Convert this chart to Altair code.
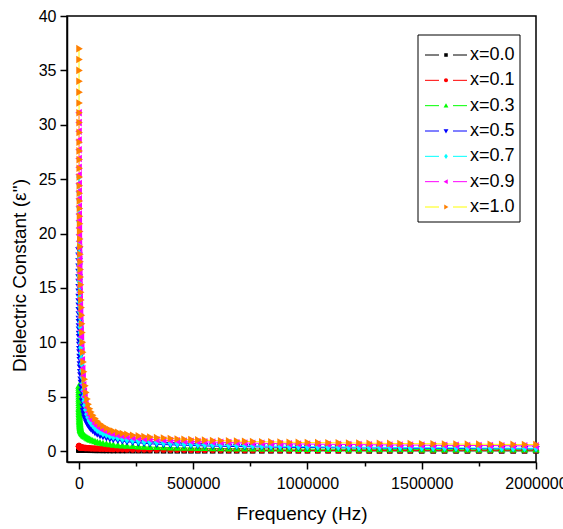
import altair as alt
import pandas as pd

series_names = ["x=0.0", "x=0.1", "x=0.3", "x=0.5", "x=0.7", "x=0.9", "x=1.0"]
marker_keys = ["m0.0", "m0.1", "m0.3", "m0.5", "m0.7", "m0.9", "m1.0"]
line_colors = ["#000000", "#FF0000", "#00FF00", "#0000FF", "#00FFFF", "#FF00FF", "#FFFF00"]
marker_colors = ["#000000", "#FF0000", "#00FF00", "#0000FF", "#00FFFF", "#FF00FF", "#FF8000"]
# small custom marker outlines: square, circle, triangle-up, triangle-down, diamond, triangle-left, triangle-right
marker_shapes = [
    "M-0.22,-0.22H0.22V0.22H-0.22Z",
    "M-0.25,0A0.25,0.25 0 1,0 0.25,0A0.25,0.25 0 1,0 -0.25,0Z",
    "M0,-0.3L0.3,0.22H-0.3Z",
    "M0,0.3L0.3,-0.22H-0.3Z",
    "M0,-0.32L0.23,0L0,0.32L-0.23,0Z",
    "M-0.3,0L0.22,-0.3V0.3Z",
    "M0.3,0L-0.22,-0.3V0.3Z",
]

freq = [
    50, 100, 150, 200, 250, 300, 400, 500, 600, 700,
    800, 900, 1000, 1200, 1400, 1600, 1800, 2000, 2300, 2600,
    3000, 3400, 3800, 4300, 4800, 5400, 6000, 6700, 7500, 8400,
    9400, 10500, 11700, 13000, 14500, 16000, 18000, 20000, 23000, 26000,
    30000, 35000, 40000, 46000, 52000, 60000, 70000, 80000, 92000, 105000,
    120000, 135000, 150000, 170000, 190000, 210000, 235000, 260000, 285000, 310000,
    340000, 370000, 400000, 430000, 460000, 490000, 520000, 550000, 585000, 620000,
    655000, 690000, 725000, 760000, 800000, 840000, 880000, 920000, 960000, 1000000,
    1045000, 1090000, 1135000, 1180000, 1225000, 1270000, 1315000, 1360000, 1405000, 1450000,
    1500000, 1550000, 1600000, 1650000, 1700000, 1750000, 1800000, 1850000, 1900000, 1950000,
    2000000,
]

eps_x00 = [
    0.20, 0.19, 0.19, 0.18, 0.18, 0.17, 0.17, 0.17, 0.16, 0.16,
    0.16, 0.15, 0.15, 0.15, 0.15, 0.14, 0.14, 0.14, 0.14, 0.13,
    0.13, 0.13, 0.13, 0.12, 0.12, 0.12, 0.12, 0.12, 0.11, 0.11,
    0.11, 0.11, 0.11, 0.10, 0.10, 0.10, 0.10, 0.10, 0.10, 0.09,
    0.09, 0.09, 0.09, 0.08, 0.08, 0.08, 0.07, 0.07, 0.07, 0.06,
    0.06, 0.06, 0.05, 0.05, 0.05, 0.05, 0.04, 0.04, 0.04, 0.04,
    0.04, 0.03, 0.03, 0.03, 0.03, 0.03, 0.03, 0.03, 0.03, 0.03,
    0.03, 0.03, 0.03, 0.03, 0.03, 0.03, 0.03, 0.03, 0.03, 0.03,
    0.03, 0.03, 0.03, 0.03, 0.03, 0.02, 0.02, 0.02, 0.02, 0.02,
    0.02, 0.02, 0.02, 0.02, 0.02, 0.02, 0.02, 0.02, 0.02, 0.02,
    0.02,
]
eps_x01 = [
    0.48, 0.47, 0.46, 0.45, 0.44, 0.44, 0.43, 0.42, 0.42, 0.41,
    0.41, 0.40, 0.40, 0.39, 0.39, 0.38, 0.38, 0.37, 0.37, 0.36,
    0.36, 0.35, 0.35, 0.35, 0.34, 0.34, 0.34, 0.33, 0.33, 0.33,
    0.32, 0.32, 0.32, 0.31, 0.31, 0.31, 0.30, 0.30, 0.30, 0.29,
    0.29, 0.28, 0.28, 0.27, 0.26, 0.25, 0.24, 0.23, 0.22, 0.21,
    0.20, 0.19, 0.18, 0.17, 0.17, 0.16, 0.15, 0.15, 0.14, 0.14,
    0.13, 0.13, 0.12, 0.12, 0.12, 0.11, 0.11, 0.11, 0.10, 0.10,
    0.10, 0.10, 0.09, 0.09, 0.09, 0.09, 0.09, 0.08, 0.08, 0.08,
    0.08, 0.08, 0.08, 0.08, 0.08, 0.07, 0.07, 0.07, 0.07, 0.07,
    0.07, 0.07, 0.07, 0.07, 0.07, 0.07, 0.07, 0.07, 0.07, 0.07,
    0.07,
]
eps_x03 = [
    6.0, 5.8, 5.6, 5.4, 5.2, 5.0, 4.8, 4.6, 4.4, 4.2,
    4.0, 3.85, 3.7, 3.55, 3.4, 3.25, 3.1, 2.95, 2.8, 2.7,
    2.6, 2.5, 2.4, 2.3, 2.2, 2.1, 2.0, 1.95, 1.9, 1.85,
    1.8, 1.75, 1.7, 1.65, 1.6, 1.55, 1.5, 1.45, 1.4, 1.35,
    1.3, 1.22, 1.15, 1.08, 1.02, 0.95, 0.88, 0.82, 0.76, 0.70,
    0.65, 0.61, 0.57, 0.53, 0.50, 0.47, 0.44, 0.41, 0.39, 0.37,
    0.35, 0.33, 0.32, 0.30, 0.29, 0.28, 0.27, 0.26, 0.25, 0.24,
    0.23, 0.22, 0.22, 0.21, 0.20, 0.20, 0.19, 0.19, 0.18, 0.18,
    0.17, 0.17, 0.17, 0.16, 0.16, 0.16, 0.15, 0.15, 0.15, 0.15,
    0.14, 0.14, 0.14, 0.14, 0.13, 0.13, 0.13, 0.13, 0.13, 0.12,
    0.12,
]
eps_x05 = [
    18.5, 18.0, 17.5, 17.0, 16.5, 16.0, 15.6, 15.1, 14.7, 14.2,
    13.8, 13.4, 13.0, 12.6, 12.2, 11.9, 11.5, 11.2, 10.8, 10.5,
    10.1, 9.8, 9.4, 9.1, 8.7, 8.4, 8.0, 7.7, 7.3, 7.0,
    6.6, 6.3, 5.9, 5.5, 5.0, 4.6, 4.1, 3.7, 3.4, 3.1,
    2.85, 2.6, 2.4, 2.2, 2.05, 1.9, 1.72, 1.58, 1.45, 1.34,
    1.24, 1.15, 1.08, 1.0, 0.93, 0.87, 0.81, 0.76, 0.72, 0.68,
    0.64, 0.61, 0.58, 0.56, 0.54, 0.52, 0.50, 0.48, 0.46, 0.45,
    0.43, 0.42, 0.41, 0.40, 0.38, 0.37, 0.36, 0.35, 0.34, 0.33,
    0.32, 0.31, 0.31, 0.30, 0.29, 0.29, 0.28, 0.27, 0.27, 0.26,
    0.26, 0.25, 0.25, 0.24, 0.24, 0.23, 0.23, 0.22, 0.22, 0.22,
    0.21,
]
eps_x07 = [
    25.2, 24.5, 23.8, 23.1, 22.4, 21.8, 21.1, 20.5, 19.9, 19.3,
    18.8, 18.2, 17.7, 17.1, 16.6, 16.1, 15.6, 15.2, 14.7, 14.2,
    13.7, 13.3, 12.8, 12.3, 11.8, 11.4, 10.9, 10.4, 9.9, 9.5,
    9.0, 8.5, 8.0, 7.4, 6.8, 6.2, 5.6, 5.0, 4.6, 4.2,
    3.8, 3.4, 3.1, 2.8, 2.6, 2.4, 2.15, 1.95, 1.78, 1.63,
    1.5, 1.39, 1.3, 1.2, 1.12, 1.05, 0.98, 0.92, 0.87, 0.83,
    0.79, 0.75, 0.72, 0.69, 0.66, 0.64, 0.62, 0.60, 0.58, 0.56,
    0.54, 0.52, 0.51, 0.49, 0.48, 0.46, 0.45, 0.44, 0.42, 0.41,
    0.40, 0.39, 0.38, 0.37, 0.36, 0.35, 0.35, 0.34, 0.33, 0.32,
    0.32, 0.31, 0.30, 0.30, 0.29, 0.28, 0.28, 0.27, 0.27, 0.26,
    0.26,
]
eps_x09 = [
    31.1, 30.2, 29.4, 28.6, 27.7, 26.9, 26.1, 25.4, 24.6, 23.9,
    23.2, 22.5, 21.8, 21.2, 20.5, 19.9, 19.3, 18.7, 18.1, 17.6,
    17.0, 16.4, 15.8, 15.2, 14.6, 14.0, 13.4, 12.9, 12.3, 11.7,
    11.1, 10.5, 9.8, 9.2, 8.4, 7.6, 6.9, 6.1, 5.5, 5.0,
    4.5, 4.0, 3.6, 3.3, 3.0, 2.8, 2.5, 2.3, 2.1, 1.95,
    1.8, 1.67, 1.58, 1.47, 1.38, 1.31, 1.24, 1.18, 1.13, 1.09,
    1.05, 1.01, 0.98, 0.95, 0.92, 0.90, 0.87, 0.85, 0.83, 0.81,
    0.79, 0.77, 0.75, 0.73, 0.72, 0.70, 0.69, 0.67, 0.66, 0.65,
    0.64, 0.63, 0.62, 0.61, 0.60, 0.59, 0.58, 0.57, 0.56, 0.56,
    0.55, 0.54, 0.53, 0.53, 0.52, 0.51, 0.51, 0.50, 0.49, 0.49,
    0.48,
]
eps_x10 = [
    37.0, 36.0, 35.0, 34.0, 33.0, 32.0, 31.1, 30.2, 29.3, 28.4,
    27.6, 26.8, 26.0, 25.2, 24.4, 23.7, 23.0, 22.3, 21.6, 20.9,
    20.2, 19.5, 18.8, 18.1, 17.4, 16.7, 16.0, 15.3, 14.6, 13.9,
    13.2, 12.5, 11.7, 10.9, 10.0, 9.1, 8.2, 7.3, 6.6, 6.0,
    5.4, 4.8, 4.3, 3.9, 3.6, 3.3, 3.0, 2.75, 2.5, 2.3,
    2.1, 1.95, 1.85, 1.72, 1.62, 1.54, 1.46, 1.40, 1.34, 1.29,
    1.24, 1.20, 1.16, 1.12, 1.09, 1.06, 1.03, 1.01, 0.98, 0.96,
    0.94, 0.92, 0.90, 0.88, 0.86, 0.85, 0.83, 0.82, 0.80, 0.79,
    0.78, 0.77, 0.76, 0.75, 0.74, 0.73, 0.72, 0.71, 0.70, 0.69,
    0.68, 0.67, 0.66, 0.65, 0.64, 0.64, 0.63, 0.62, 0.62, 0.61,
    0.60,
]

all_series = [eps_x00, eps_x01, eps_x03, eps_x05, eps_x07, eps_x09, eps_x10]
for s in all_series:
    assert len(s) == len(freq), (len(s), len(freq))

rows = []
for name, key, vals in zip(series_names, marker_keys, all_series):
    for f, v in zip(freq, vals):
        rows.append({"freq": f, "eps": v, "series": name, "marker": key})
df = pd.DataFrame(rows)
legend_df = pd.DataFrame({"series": series_names, "marker": marker_keys})
box_df = pd.DataFrame({"box": [1]})

FONT = "Liberation Sans"

x_ticks = [0, 250000, 500000, 750000, 1000000, 1250000, 1500000, 1750000, 2000000]
y_ticks = [0, 2.5, 5, 7.5, 10, 12.5, 15, 17.5, 20, 22.5, 25, 27.5, 30, 32.5, 35, 37.5, 40]

x_axis = alt.Axis(
    values=x_ticks,
    labelExpr="datum.value % 500000 == 0 ? format(datum.value, 'd') : ''",
    tickSize={"condition": {"test": "datum.value % 500000 == 0", "value": 7}, "value": 4},
    labelPadding=6,
    labelFlush=False,
    labelOverlap=False,
    titlePadding=13,
    grid=False,
)
y_axis = alt.Axis(
    values=y_ticks,
    labelExpr="datum.value % 5 == 0 ? format(datum.value, 'd') : ''",
    tickSize={"condition": {"test": "datum.value % 5 == 0", "value": 7}, "value": 4},
    labelPadding=4,
    labelOverlap=False,
    grid=False,
    titleAngle=270,
    titleX=-42,
    titleY=259,
    titleAlign="center",
    titleBaseline="alphabetic",
)

x_scale = alt.Scale(domain=[-52500, 2000000], nice=False, zero=False)
y_scale = alt.Scale(domain=[-1, 40], nice=False, zero=False)
stroke_scale = alt.Scale(domain=series_names, range=line_colors)
fill_scale = alt.Scale(domain=marker_keys, range=marker_colors)
shape_scale = alt.Scale(domain=marker_keys, range=marker_shapes)

lines = alt.Chart(df).mark_line(strokeWidth=1).encode(
    x=alt.X("freq:Q", title="Frequency (Hz)", scale=x_scale, axis=x_axis),
    y=alt.Y("eps:Q", title="Dielectric Constant (\u03b5'')", scale=y_scale, axis=y_axis),
    stroke=alt.Stroke("series:N", scale=stroke_scale, legend=None),
    order=alt.Order("freq:Q"),
)
points = alt.Chart(df).mark_point(filled=True, size=640, opacity=1, strokeWidth=0).encode(
    x=alt.X("freq:Q", scale=x_scale),
    y=alt.Y("eps:Q", scale=y_scale),
    fill=alt.Fill("marker:N", scale=fill_scale, legend=None),
    shape=alt.Shape("marker:N", scale=shape_scale, legend=None),
)
main = alt.layer(lines, points)

# legend drawn as its own small layer (rows placed by a point scale)
row_y = alt.Y("series:N", scale=alt.Scale(type="point", domain=series_names, range=[39, 191], padding=0), axis=None)
box = alt.Chart(box_df).mark_rect(fill="white", stroke="black", strokeWidth=1).encode(
    x=alt.value(351), x2=alt.value(453), y=alt.value(19), y2=alt.value(206),
)
dash_left = alt.Chart(legend_df).mark_rule(strokeWidth=1).encode(
    y=row_y, x=alt.value(358), x2=alt.value(372),
    stroke=alt.Stroke("series:N", scale=stroke_scale, legend=None),
)
dash_right = alt.Chart(legend_df).mark_rule(strokeWidth=1).encode(
    y=row_y, x=alt.value(386), x2=alt.value(400),
    stroke=alt.Stroke("series:N", scale=stroke_scale, legend=None),
)
leg_marks = alt.Chart(legend_df).mark_point(filled=True, size=260, opacity=1, strokeWidth=0).encode(
    y=row_y, x=alt.value(379),
    fill=alt.Fill("marker:N", scale=fill_scale, legend=None),
    shape=alt.Shape("marker:N", scale=shape_scale, legend=None),
)
leg_text = alt.Chart(legend_df).mark_text(
    align="left", baseline="middle", font=FONT, fontSize=18, color="black"
).encode(
    y=row_y, x=alt.value(403), text="series:N",
)
legend = alt.layer(box, dash_left, dash_right, leg_marks, leg_text)

chart = alt.layer(main, legend).resolve_scale(y="independent").properties(
    width=469,
    height=446,
    padding={"left": 67, "top": 16, "right": 27, "bottom": 67},
    autosize=alt.AutoSizeParams(type="none"),
    background="white",
).configure_view(
    stroke="black", strokeWidth=1.5,
).configure_axis(
    labelFont=FONT, labelFontSize=16, labelColor="black",
    titleFont=FONT, titleFontSize=19, titleFontWeight="normal", titleColor="black",
    domainColor="black", domainWidth=1.5, tickColor="black", tickWidth=1.5,
)

chart.save("out.html", embed_options={"renderer": "svg", "actions": False})
